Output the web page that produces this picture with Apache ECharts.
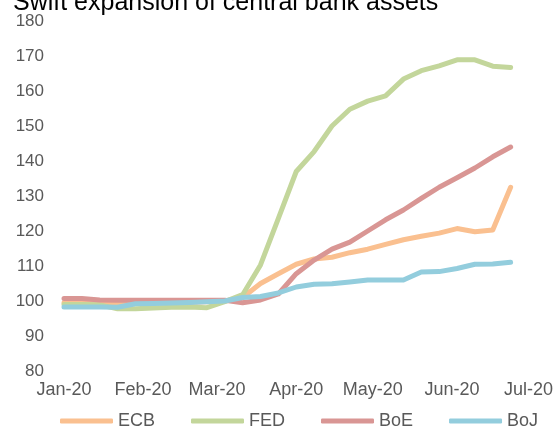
<!DOCTYPE html>
<html>
<head>
<meta charset="utf-8">
<script src="https://cdn.jsdelivr.net/npm/echarts@6/dist/echarts.min.js"></script>
<style>
html,body{margin:0;padding:0;background:#fff;}
#chart{width:556px;height:427px;}
</style>
</head>
<body>
<div id="chart"></div>
<script>
// Weekly dates (Wednesdays) starting 1 Jan 2020
var weeks = 26;
var dates = [];
for (var i = 0; i < weeks; i++) {
  var d = new Date(Date.UTC(2020, 0, 1 + 7 * i));
  dates.push(d.toISOString().slice(0, 10));
}
var seriesNames = ['ECB', 'FED', 'BoE', 'BoJ'];
var ecb = [99.5, 99.5, 99.4, 99.3, 99.3, 99.4, 99.5, 99.6, 99.8, 100.0, 101.0, 105.0, 107.8, 110.5, 112.0, 112.5, 113.8, 114.8, 116.2, 117.5, 118.5, 119.4, 120.7, 119.8, 120.3, 132.5];
var fed = [99.0, 99.0, 98.9, 97.8, 97.8, 98.0, 98.2, 98.3, 98.1, 99.8, 101.8, 110.3, 123.6, 137.0, 142.7, 150.0, 154.8, 157.1, 158.6, 163.4, 165.8, 167.2, 168.9, 168.9, 167.1, 166.7];
var boe = [100.7, 100.7, 100.3, 100.2, 100.2, 100.2, 100.2, 100.2, 100.2, 100.2, 99.5, 100.3, 102.0, 107.8, 111.7, 114.8, 116.8, 120.0, 123.2, 126.0, 129.3, 132.5, 135.2, 138.0, 141.2, 144.0];
var boj = [98.3, 98.3, 98.3, 98.2, 99.2, 99.3, 99.4, 99.6, 99.8, 100.0, 101.0, 101.3, 102.3, 104.0, 104.8, 104.9, 105.4, 106.0, 106.0, 106.0, 108.3, 108.4, 109.3, 110.5, 110.6, 111.1];
var monthTicks = ['2020-01-01', '2020-02-01', '2020-03-01', '2020-04-01', '2020-05-01', '2020-06-01', '2020-07-01'];
var monthLabels = ['Jan-20', 'Feb-20', 'Mar-20', 'Apr-20', 'May-20', 'Jun-20', 'Jul-20'];
var colors = ['#FAC090', '#C3D69B', '#D99694', '#93CDDD'];
var values = [ecb, fed, boe, boj];

var tickTimes = monthTicks.map(function (s) { return new Date(s + 'T00:00:00Z').getTime(); });
function pairs(arr) {
  return arr.map(function (v, i) { return [new Date(dates[i] + 'T00:00:00Z').getTime(), v]; });
}

var chart = echarts.init(document.getElementById('chart'), null, {renderer: 'canvas'});
var font = '"Liberation Sans", Arial, sans-serif';
chart.setOption({
  animation: false,
  color: colors,
  title: {
    text: 'Swift expansion of central bank assets',
    left: 8,
    top: -14,
    textStyle: {fontFamily: font, fontSize: 25, fontWeight: 'normal', color: '#000'}
  },
  legend: {
    data: seriesNames,
    left: 55,
    top: 407,
    icon: 'roundRect',
    itemWidth: 53,
    itemHeight: 5,
    itemGap: 36,
    textStyle: {fontFamily: font, fontSize: 18, color: '#595959'}
  },
  grid: {left: 64, right: 25, top: 21, bottom: 56, containLabel: false},
  xAxis: {
    type: 'value',
    min: tickTimes[0],
    max: tickTimes[tickTimes.length - 1],
    axisLine: {show: false},
    axisTick: {show: false},
    splitLine: {show: false},
    axisLabel: {
      customValues: tickTimes,
      margin: 10,
      fontFamily: font,
      fontSize: 18,
      color: '#595959',
      formatter: function (v) {
        var idx = tickTimes.indexOf(v);
        return idx >= 0 ? monthLabels[idx] : '';
      }
    }
  },
  yAxis: {
    type: 'value',
    min: 80,
    max: 180,
    interval: 10,
    axisLine: {show: false},
    axisTick: {show: false},
    splitLine: {show: false},
    axisLabel: {margin: 20, fontFamily: font, fontSize: 17, color: '#595959'}
  },
  series: seriesNames.map(function (n, k) {
    return {
      name: n,
      type: 'line',
      data: pairs(values[k]),
      showSymbol: false,
      symbol: 'none',
      lineStyle: {width: 5, color: colors[k], cap: 'round', join: 'round'},
      itemStyle: {color: colors[k]}
    };
  })
});
</script>
</body>
</html>
